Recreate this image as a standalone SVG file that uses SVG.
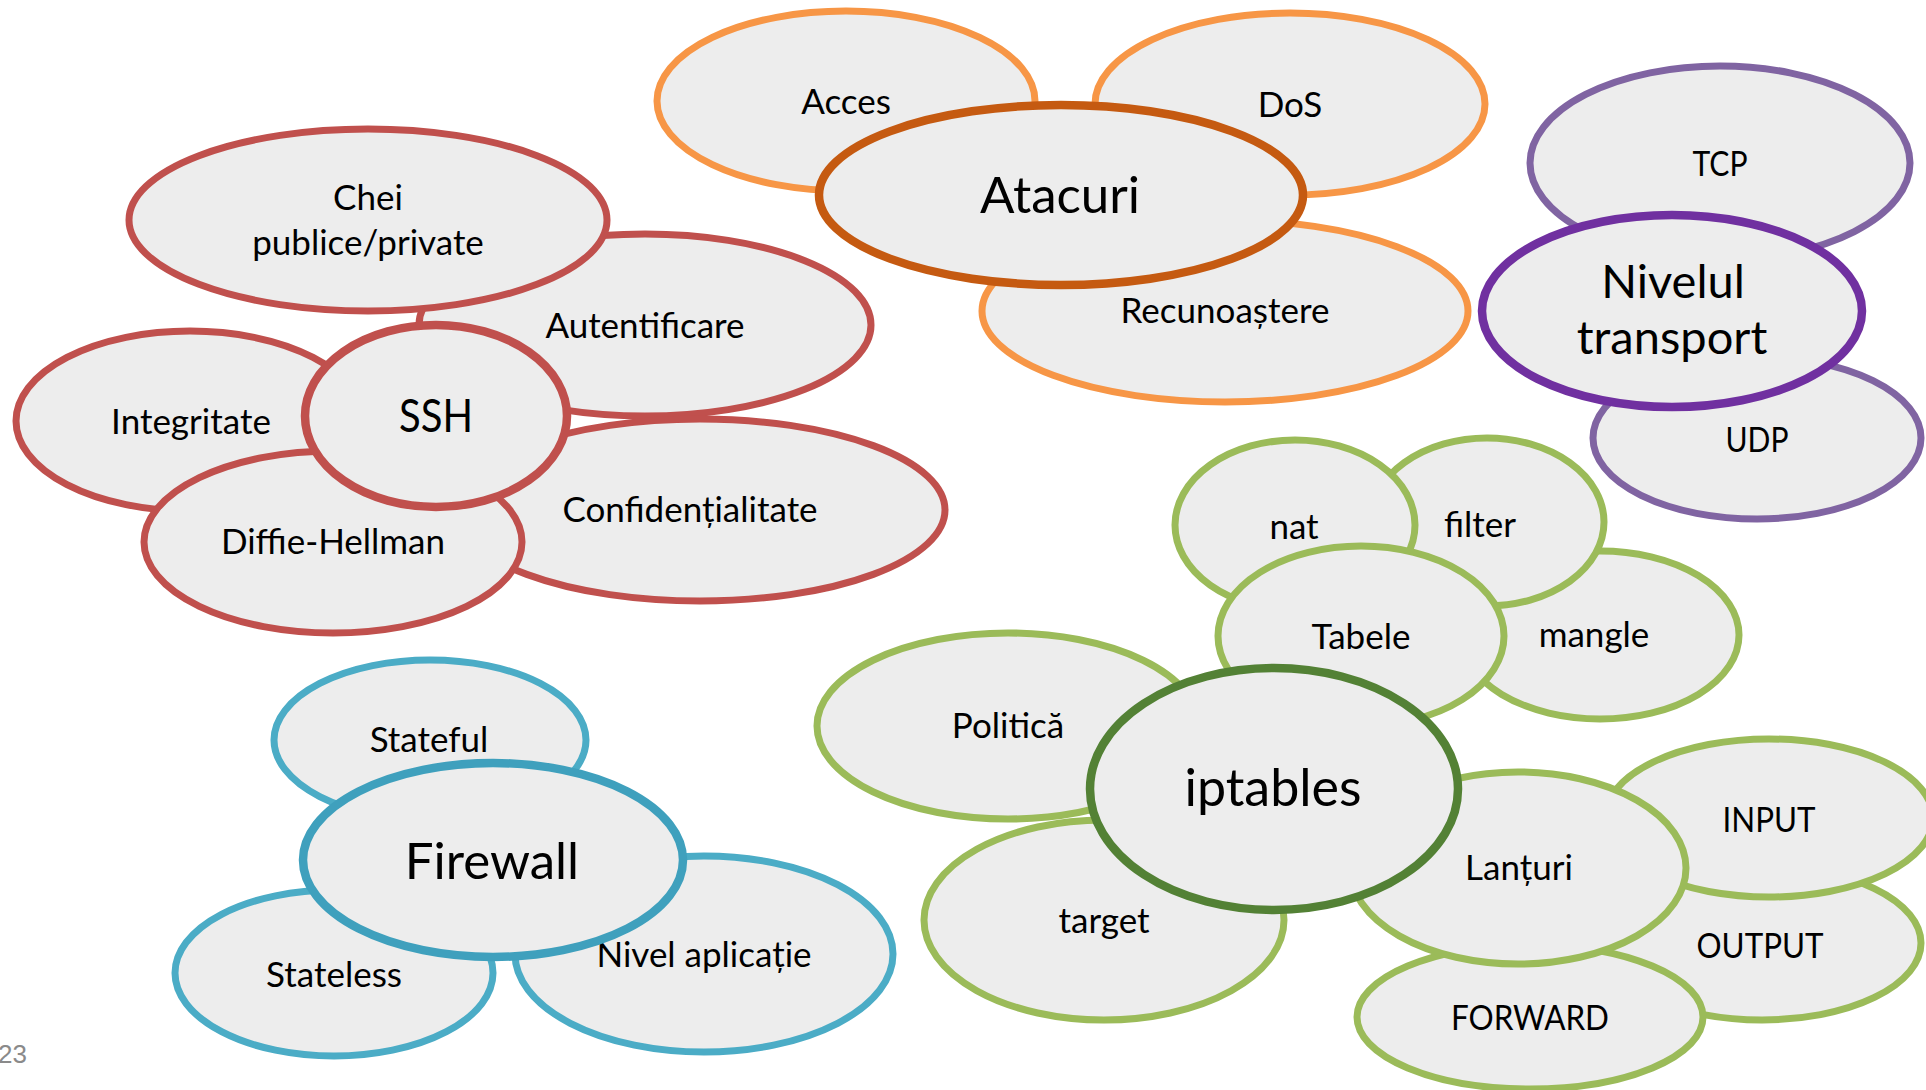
<svg xmlns="http://www.w3.org/2000/svg" width="1926" height="1090" viewBox="0 0 1926 1090">
  <style>
    ellipse { fill: #EDEDED; stroke-width: 7; }
    .hub { stroke-width: 8.5; }
    text { font-family: Lato, "Open Sans", sans-serif; fill: #000; text-anchor: middle; font-size: 35px; }
    .big { font-size: 51px; }
    .orange { stroke: #F79646; }
    .orange-hub { stroke: #C55A11; }
    .red { stroke: #C0504D; }
    .purple { stroke: #8064A2; }
    .purple-hub { stroke: #7030A0; }
    .green { stroke: #9BBB59; }
    .green-hub { stroke: #538135; }
    .blue { stroke: #4BACC6; }
    .blue-hub { stroke: #3FA0BD; }
    .pagenum { font-family: "Liberation Sans", sans-serif; font-size: 26px; fill: #8A8A8A; text-anchor: end; }
  </style>
  <rect width="1926" height="1090" fill="#FFFFFF"/>

  <!-- Atacuri cluster -->
  <g id="acces"><ellipse class="orange" cx="846" cy="101" rx="189" ry="90"/><text x="846" y="114">Acces</text></g>
  <g id="dos"><ellipse class="orange" cx="1290" cy="104" rx="195" ry="91"/><text x="1290" y="117">DoS</text></g>
  <g id="recunoastere"><ellipse class="orange" cx="1225" cy="311" rx="243" ry="91"/><text x="1225" y="323">Recunoaștere</text></g>
  <g id="atacuri"><ellipse class="orange-hub hub" cx="1061" cy="195" rx="242" ry="90"/><text class="big" x="1060" y="213">Atacuri</text></g>

  <!-- SSH cluster -->
  <g id="autentificare"><ellipse class="red" cx="645" cy="325" rx="226" ry="91"/><text x="645" y="338">Autentificare</text></g>
  <g id="chei"><ellipse class="red" cx="368" cy="220" rx="239" ry="91"/><text x="368" y="210">Chei</text><text x="368" y="255">publice/private</text></g>
  <g id="confidentialitate"><ellipse class="red" cx="700" cy="510" rx="245" ry="91"/><text x="690" y="522">Confidențialitate</text></g>
  <g id="integritate"><ellipse class="red" cx="190" cy="421" rx="174" ry="90"/><text x="191" y="434">Integritate</text></g>
  <g id="diffie-hellman"><ellipse class="red" cx="333" cy="542" rx="189" ry="91"/><text x="333" y="554">Diffie-Hellman</text></g>
  <g id="ssh"><ellipse class="red hub" cx="436" cy="416" rx="131" ry="91"/><text x="436" y="432" style="font-size:46px" textLength="74" lengthAdjust="spacingAndGlyphs">SSH</text></g>

  <!-- Nivelul transport cluster -->
  <g id="tcp"><ellipse class="purple" cx="1720" cy="163" rx="190" ry="97"/><text x="1720" y="176" textLength="55" lengthAdjust="spacingAndGlyphs">TCP</text></g>
  <g id="udp"><ellipse class="purple" cx="1757" cy="438" rx="164" ry="81"/><text x="1757" y="452" textLength="63" lengthAdjust="spacingAndGlyphs">UDP</text></g>
  <g id="nivelul-transport"><ellipse class="purple-hub hub" cx="1672" cy="311" rx="190" ry="96"/><text x="1673" y="298" style="font-size:47px">Nivelul</text><text x="1672" y="354" style="font-size:47px">transport</text></g>

  <!-- iptables cluster -->
  <g id="mangle"><ellipse class="green" cx="1600" cy="635" rx="139" ry="84"/><text x="1594" y="647">mangle</text></g>
  <g id="filter"><ellipse class="green" cx="1487" cy="522" rx="117" ry="84"/><text x="1480" y="537">filter</text></g>
  <g id="nat"><ellipse class="green" cx="1295" cy="525" rx="120" ry="85"/><text x="1294" y="539">nat</text></g>
  <g id="tabele"><ellipse class="green" cx="1361" cy="636" rx="143" ry="90"/><text x="1361" y="649">Tabele</text></g>
  <g id="politica"><ellipse class="green" cx="1008" cy="726" rx="191" ry="93"/><text x="1008" y="738">Politică</text></g>
  <g id="target"><ellipse class="green" cx="1104" cy="920" rx="180" ry="100"/><text x="1104" y="933">target</text></g>
  <g id="output"><ellipse class="green" cx="1762" cy="943" rx="159" ry="77"/><text x="1760" y="958" textLength="127" lengthAdjust="spacingAndGlyphs">OUTPUT</text></g>
  <g id="input"><ellipse class="green" cx="1769" cy="818" rx="164" ry="79"/><text x="1769" y="832" textLength="93" lengthAdjust="spacingAndGlyphs">INPUT</text></g>
  <g id="forward"><ellipse class="green" cx="1530" cy="1017" rx="173" ry="72"/><text x="1530" y="1030" textLength="158" lengthAdjust="spacingAndGlyphs">FORWARD</text></g>
  <g id="lanturi"><ellipse class="green" cx="1518" cy="868" rx="168" ry="96"/><text x="1519" y="880">Lanțuri</text></g>
  <g id="iptables"><ellipse class="green-hub hub" cx="1274" cy="789" rx="184" ry="121"/><text class="big" x="1273" y="806" style="font-size:52px">iptables</text></g>

  <!-- Firewall cluster -->
  <g id="stateful"><ellipse class="blue" cx="430" cy="740" rx="156" ry="80"/><text x="429" y="752">Stateful</text></g>
  <g id="stateless"><ellipse class="blue" cx="334" cy="973" rx="159" ry="83"/><text x="334" y="987">Stateless</text></g>
  <g id="nivel-aplicatie"><ellipse class="blue" cx="704" cy="954" rx="189" ry="98"/><text x="704" y="967">Nivel aplicație</text></g>
  <g id="firewall"><ellipse class="blue-hub hub" cx="493" cy="860" rx="190" ry="97"/><text class="big" x="492" y="879">Firewall</text></g>

  <!-- slide number -->
  <text class="pagenum" x="27" y="1063">23</text>
</svg>
